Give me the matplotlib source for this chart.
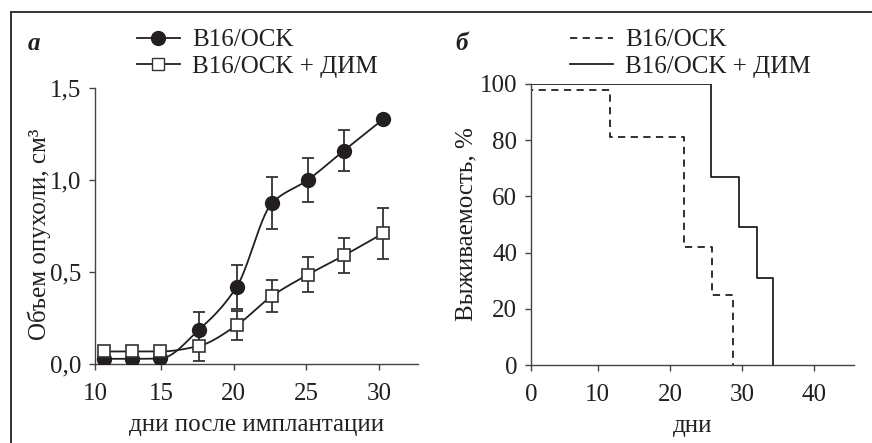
import numpy as np
import matplotlib.pyplot as plt
from matplotlib.lines import Line2D

plt.rcParams['font.family'] = ['Liberation Serif', 'DejaVu Serif']

# панель а: объем опухоли
days = [11.1, 13.0, 14.95, 17.6, 20.2, 22.65, 25.1, 27.6, 30.3]
vol_osk = [0.028, 0.028, 0.03, 0.185, 0.418, 0.875, 1.0, 1.16, 1.33]
err_osk = [0, 0, 0, 0.10, 0.12, 0.14, 0.12, 0.11, 0]
vol_dim = [0.068, 0.068, 0.068, 0.098, 0.21, 0.37, 0.485, 0.59, 0.71]
err_dim = [0, 0, 0, 0.08, 0.077, 0.085, 0.096, 0.095, 0.14]

# панель б: выживаемость
surv_osk_x = [0, 11.7, 21.9, 25.8, 28.8]
surv_osk_y = [98, 81, 42, 25, 0]
surv_dim_x = [0, 25.65, 29.6, 32.1, 34.3]
surv_dim_y = [100, 67, 49, 31, 0]

ink = '#231f20'
fs = 18


def pchip(x, y, n=300):
    x = np.asarray(x, float)
    y = np.asarray(y, float)
    h = np.diff(x)
    d = np.diff(y) / h
    m = np.zeros_like(y)
    for k in range(1, len(x) - 1):
        if d[k - 1] * d[k] > 0:
            w1 = 2 * h[k] + h[k - 1]
            w2 = h[k] + 2 * h[k - 1]
            m[k] = (w1 + w2) / (w1 / d[k - 1] + w2 / d[k])
    m[0], m[-1] = d[0], d[-1]
    xs = np.linspace(x[0], x[-1], n)
    i = np.clip(np.searchsorted(x, xs) - 1, 0, len(h) - 1)
    t = (xs - x[i]) / h[i]
    h00 = 2 * t**3 - 3 * t**2 + 1
    h10 = t**3 - 2 * t**2 + t
    h01 = -2 * t**3 + 3 * t**2
    h11 = t**3 - t**2
    ys = h00 * y[i] + h10 * h[i] * m[i] + h01 * y[i + 1] + h11 * h[i] * m[i + 1]
    return xs, ys


fig = plt.figure(figsize=(8.72, 4.43), dpi=100)

# рамка
fig.add_artist(Line2D([11 / 872, 11 / 872], [0, 1 - 12 / 443], transform=fig.transFigure,
                      color='#333333', lw=1.4))
fig.add_artist(Line2D([11 / 872, 1], [1 - 12 / 443, 1 - 12 / 443], transform=fig.transFigure,
                      color='#333333', lw=1.4))

ax1 = fig.add_axes([95 / 872, 1 - 364 / 443, 323 / 872, 276 / 443])
ax2 = fig.add_axes([531 / 872, 1 - 365 / 443, 323 / 872, 281 / 443])

for ax in (ax1, ax2):
    for s in ('top', 'right'):
        ax.spines[s].set_visible(False)
    for s in ('left', 'bottom'):
        ax.spines[s].set_color('#444444')
        ax.spines[s].set_linewidth(1.0)
    ax.tick_params(direction='out', length=4, width=1.0, color='#444444',
                   labelsize=fs, labelcolor=ink)
    ax.tick_params(axis='x', pad=10)
    ax.tick_params(axis='y', pad=6)

# а
xs, ys = pchip(days, vol_osk)
ax1.plot(xs, ys, color=ink, lw=1.3, zorder=2)
xs, ys = pchip(days, vol_dim)
ax1.plot(xs, ys, color=ink, lw=1.3, zorder=2)
ax1.errorbar(days, vol_osk, yerr=err_osk, fmt='none', ecolor='#333333', elinewidth=1.3,
             capsize=4, capthick=1.3, zorder=3)
ax1.errorbar(days, vol_dim, yerr=err_dim, fmt='none', ecolor='#333333', elinewidth=1.3,
             capsize=4, capthick=1.3, zorder=3)
ax1.plot(days, vol_osk, 'o', ms=10, mfc=ink, mec=ink, zorder=4)
ax1.plot(days, vol_dim, 's', ms=9, mfc='white', mec='#333333', mew=1.2, zorder=4)
ax1.set_xlim(10.45, 32.7)
ax1.set_ylim(0, 1.5)
ax1.set_xticks([10.45, 15, 20, 25, 30])
ax1.set_xticklabels(['10', '15', '20', '25', '30'])
ax1.set_yticks([0, 0.5, 1.0, 1.5])
ax1.set_yticklabels(['0,0', '0,5', '1,0', '1,5'])
ax1.set_xlabel('дни после имплантации', fontsize=fs, color=ink, labelpad=6)
ax1.set_ylabel('Объем опухоли, см³', fontsize=fs, color=ink)
ax1.yaxis.set_label_coords(-0.135, 0.47)

h1 = [Line2D([], [], color=ink, lw=1.3, marker='o', ms=10, mfc=ink),
      Line2D([], [], color=ink, lw=1.3, marker='s', ms=9, mfc='white', mec='#333333')]
fig.legend(h1, ['B16/OCK', 'B16/OCK + ДИМ'], loc='upper left',
           bbox_to_anchor=(137 / 872, 1 - 29 / 443), frameon=False, fontsize=fs,
           handlelength=1.7, handletextpad=0.5, labelspacing=0.15, borderaxespad=0,
           borderpad=0, labelcolor=ink)

# б
ax2.step(surv_osk_x, surv_osk_y, where='post', color=ink, lw=1.3, ls=(0, (4, 3)))
ax2.step(surv_dim_x, surv_dim_y, where='post', color=ink, lw=1.3)
ax2.set_xlim(0.75, 45.5)
ax2.set_ylim(0, 100)
ax2.set_xticks([0.75, 10, 20, 30, 40])
ax2.set_xticklabels(['0', '10', '20', '30', '40'])
ax2.set_yticks([0, 20, 40, 60, 80, 100])
ax2.set_xlabel('дни', fontsize=fs, color=ink, labelpad=6)
ax2.set_ylabel('Выживаемость, %', fontsize=fs, color=ink)
ax2.yaxis.set_label_coords(-0.165, 0.5)

h2 = [Line2D([], [], color=ink, lw=1.3, ls=(0, (4, 3))),
      Line2D([], [], color=ink, lw=1.3)]
fig.legend(h2, ['B16/OCK', 'B16/OCK + ДИМ'], loc='upper left',
           bbox_to_anchor=(570 / 872, 1 - 29 / 443), frameon=False, fontsize=fs,
           handlelength=1.7, handletextpad=0.5, labelspacing=0.15, borderaxespad=0,
           borderpad=0, labelcolor=ink)

fig.text(28 / 872, 1 - 44 / 443, 'а', fontsize=fs, fontweight='bold', fontstyle='italic',
         color=ink, va='center')
fig.text(455 / 872, 1 - 44 / 443, 'б', fontsize=fs, fontweight='bold', fontstyle='italic',
         color=ink, va='center')

fig.savefig('out.png', dpi=100)
